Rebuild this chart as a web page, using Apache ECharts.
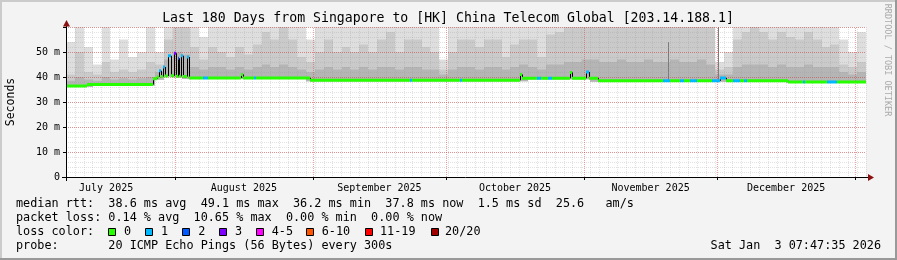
<!DOCTYPE html>
<html><head><meta charset="utf-8">
<script src="https://cdn.jsdelivr.net/npm/echarts@6/dist/echarts.min.js"></script>
<style>html,body{margin:0;padding:0;background:#f3f3f3}#c{width:897px;height:260px}</style>
</head><body><div id="c"></div>
<script>
const FONT = "'DejaVu Sans Mono', monospace";
// x values are days since 1 Jul 2025 00:00
const startDay = 6.475, endDay = 186.475;
const monthNames = ['July 2025','August 2025','September 2025','October 2025','November 2025','December 2025'];
const monthMid = [15.5, 46.5, 77, 107.5, 138, 168.5];
const monthStart = [31, 62, 92, 123, 153, 184];
const yMax = 60;
// smoke, 2-day buckets from startDay (ms): top of dark / mid / light band
const smokeStep = 2;
const smokeDark = [38.5,40,39,38.5,40,39,39.5,39,39.5,40, 42,47,50,49,44,43,44,44,43,44,
  43,44,45,44,45,44,43,42,43,44, 43,44,43,44,43,44,44,43,44,44, 43,43,41,43,44,44,43,44,44,43,
  44,45,44,43,45,45,46,46,47,47, 46,46,47,46,46,47,46,46,47,46, 46,47,45,41,41,44,45,45,45,44,
  45,44,44,45,44,44,44,42,41,42];
const smokeMid = [41,50,42,41,46,42,43,42,43,46, 45,55,65,65,52,47,52,50,48,52,
  49,53,58,55,60,55,48,46,50,55, 50,52,50,53,50,55,58,50,55,55, 52,50,43,50,55,55,52,55,55,48,
  53,55,55,48,57,58,65,62,65,65, 65,60,65,65,62,65,65,65,65,62, 65,65,60,43,44,55,58,60,58,55,
  58,56,55,58,55,52,53,45,44,46];
const smokeLight = [54,65,52,45,65,47,55,48,50,65, 50,65,65,65,65,56,65,65,65,65,
  65,65,65,65,65,65,60,55,65,65, 65,65,65,65,65,65,65,65,65,65, 65,65,47,65,65,65,65,65,65,62,
  65,65,65,60,65,65,65,65,65,65, 65,65,65,65,65,65,65,65,65,65, 65,65,65,46,50,65,65,65,65,65,
  65,65,65,65,65,65,65,55,50,58];
// single-sample high outliers (day, top ms)
const streakDay = [141.88, 153.1];
const streakTop = [54, 60];
// median rtt segments: start day, value (ms), lost pings of 20
const medDay = [6.475,11.2,26.05,26.95,27.4,27.74,28.3,28.64,29.36,30.1,30.84,31.23,31.61,31.9,32.28,32.87,33.77,34.15,
  37.3,38.4,45.85,46.2,48.8,49.2,61.4,83.9,84.3,95.1,95.6,108.6,109.1,112.5,113.4,114.9,115.8,119.9,120.3,123.5,124.2,
  126.2,140.8,142.4,144.6,145.5,146.8,148.5,151.8,153.6,155.0,156.6,158.1,159.0,159.7,168.9,172.3,172.8,177.7,180.0];
const medMs = [36.4,37.0,39.3,40.0,42.5,40.2,44.0,40.4,48.5,40.5,49.5,40.3,47.5,40.3,48.5,40.2,48.0,39.6,
  39.6,39.6,41.0,39.6,39.6,39.6,38.7,38.7,38.7,38.7,38.7,41.0,39.5,39.5,39.5,39.5,39.5,41.8,39.5,42.0,39.5,
  38.5,38.5,38.5,38.5,38.5,38.5,38.5,38.5,39.6,38.5,38.5,38.5,38.5,38.5,38.0,38.0,38.0,38.0,38.0];
const medLoss = [0,0,0,0,1,0,1,0,1,0,3,0,2,0,1,0,1,0,
  1,0,0,0,1,0,0,1,0,1,0,0,0,1,0,1,0,0,0,1,0,
  0,1,0,1,0,1,0,1,1,0,1,0,1,0,0,1,0,1,0];
const lossColors = ['#26ff00','#00b8ff','#0059ff','#7e00ff','#ff00ff','#ff5500','#ff0000','#a10000'];
const lossLabels = ['0','1','2','3','4-5','6-10','11-19','20/20'];
function lossIndex(n){ if(n<=3) return n; if(n<=5) return 4; if(n<=10) return 5; if(n<=19) return 6; return 7; }
function medianAt(t){ let v = medMs[0]; for(let i=0;i<medDay.length;i++){ if(medDay[i]<=t) v=medMs[i]; } return v; }

const smokeData = smokeDark.map((d,i)=>{
  const t0 = startDay + i*smokeStep, t1 = Math.min(endDay, t0+smokeStep);
  const base = Math.min(medianAt(t0), medianAt((t0+t1)/2), medianAt(t1-0.01)) - 0.4;
  return [t0, t1, base, d, smokeMid[i], smokeLight[i]];
});
const streakData = streakDay.map((t,i)=>[t, medianAt(t), streakTop[i]]);
const medData = medDay.map((t,i)=>[t, i+1<medDay.length?medDay[i+1]:endDay, medMs[i], medLoss[i], i>0?medMs[i-1]:NaN]);

function clipR(r, cs){ return echarts.graphic.clipRectByRect(r, {x:cs.x,y:cs.y,width:cs.width,height:cs.height}); }
function renderSmoke(params, api){
  const cs = params.coordSys;
  const t0=api.value(0), t1=api.value(1), base=api.value(2);
  const layers=[[api.value(5),'#dedede'],[api.value(4),'#cacaca'],[api.value(3),'#b5b5b5']];
  const children=[];
  for(const [top,color] of layers){
    if(top<=base) continue;
    const a=api.coord([t0,top]), b=api.coord([t1,base]);
    const x0=Math.round(a[0]), x1=Math.round(b[0]);
    const r=clipR({x:x0,y:a[1],width:x1-x0,height:b[1]-a[1]}, cs);
    if(r) children.push({type:'rect',shape:r,style:{fill:color}});
  }
  return {type:'group',children};
}
function renderStreak(params, api){
  const cs = params.coordSys;
  const a=api.coord([api.value(0),api.value(2)]), b=api.coord([api.value(0),api.value(1)]);
  const r=clipR({x:Math.round(a[0]),y:a[1],width:1,height:b[1]-a[1]}, cs);
  return r?{type:'rect',shape:r,style:{fill:'#7a7a7a'}}:null;
}
function renderMed(params, api){
  const t0=api.value(0), t1=api.value(1), v=api.value(2), loss=api.value(3), pv=api.value(4);
  const a=api.coord([t0,v]), b=api.coord([t1,v]);
  const x0=Math.round(a[0]), x1=Math.round(b[0]);
  const children=[];
  if(!isNaN(pv) && pv!==v){
    const p=api.coord([t0,pv]);
    children.push({type:'line',shape:{x1:x0+0.5,y1:p[1],x2:x0+0.5,y2:a[1]},style:{stroke:'#000',lineWidth:1}});
  }
  children.push({type:'rect',shape:{x:x0,y:a[1]-1.5,width:Math.max(1,x1-x0),height:3},style:{fill:lossColors[lossIndex(loss)]}});
  return {type:'group',children};
}

const chart = echarts.init(document.getElementById('c'), null, {renderer:'canvas'});
const gL=66, gT=27, gW=800, gH=150;
const textLines = [
  'median rtt:  38.6 ms avg  49.1 ms max  36.2 ms min  37.8 ms now  1.5 ms sd  25.6   am/s',
  'packet loss: 0.14 % avg  10.65 % max  0.00 % min  0.00 % now',
  'loss color:',
  'probe:       20 ICMP Echo Pings (56 Bytes) every 300s'
];
const swX = [108.5,145.5,182.5,219.5,256.5,306.5,365.5,431.5];
const swLX = [124,161,198.3,235,271.7,321.7,380,445];
const graphics = [
  {type:'rect',shape:{x:0,y:0,width:897,height:2},style:{fill:'#cbcbcb'},silent:true},
  {type:'rect',shape:{x:0,y:0,width:2,height:260},style:{fill:'#cbcbcb'},silent:true},
  {type:'rect',shape:{x:0,y:258,width:897,height:2},style:{fill:'#999'},silent:true},
  {type:'rect',shape:{x:895,y:0,width:2,height:260},style:{fill:'#999'},silent:true},
  {type:'text',x:448,y:19,style:{text:'Last 180 Days from Singapore to [HK] China Telecom Global [203.14.188.1]',font:'13.2px '+FONT,fill:'#000',align:'center',verticalAlign:'middle'}},
  {type:'text',x:11,y:102,rotation:Math.PI/2,style:{text:'Seconds',font:'11.5px '+FONT,fill:'#000',align:'center',verticalAlign:'middle'}},
  {type:'text',x:887,y:60,rotation:-Math.PI/2,style:{text:'RRDTOOL / TOBI OETIKER',font:'8.5px '+FONT,fill:'#aaaaaa',align:'center',verticalAlign:'middle'}},
  {type:'line',shape:{x1:62,y1:gT+gH+0.5,x2:869,y2:gT+gH+0.5},style:{stroke:'#000',lineWidth:1},z:20},
  {type:'line',shape:{x1:gL+0.5,y1:gT+gH+4,x2:gL+0.5,y2:23},style:{stroke:'#000',lineWidth:1},z:20},
  {type:'polygon',shape:{points:[[63,26.5],[70,26.5],[66.5,20]]},style:{fill:'#8b1010'},z:21},
  {type:'polygon',shape:{points:[[868,174],[868,181],[874,177.5]]},style:{fill:'#8b1010'},z:21},
  {type:'text',x:881,y:246.3,style:{text:'Sat Jan  3 07:47:35 2026',font:'11.8px '+FONT,fill:'#000',align:'right',verticalAlign:'middle'}}
];
textLines.forEach((t,i)=>graphics.push({type:'text',x:16,y:204.3+14*i,style:{text:t,font:'11.8px '+FONT,fill:'#000',align:'left',verticalAlign:'middle'}}));
lossColors.forEach((c,i)=>{
  graphics.push({type:'rect',shape:{x:swX[i],y:228.5,width:7,height:7},style:{fill:c,stroke:'#000',lineWidth:1}});
  graphics.push({type:'text',x:swLX[i],y:232.3,style:{text:lossLabels[i],font:'11.8px '+FONT,fill:'#000',align:'left',verticalAlign:'middle'}});
});
const minorGrid = {color:'rgba(150,150,150,0.28)',width:1,type:[1,1]};
const majorGrid = {color:'rgba(210,50,50,0.45)',width:1,type:[1,1]};

chart.setOption({
  backgroundColor:'#f3f3f3',
  animation:false,
  grid:{left:gL,top:gT,width:gW,height:gH,show:true,backgroundColor:'#ffffff',borderWidth:0},
  xAxis:[
    {type:'value',min:startDay,max:endDay,z:6,
      axisLine:{show:false},
      axisTick:{show:true,customValues:monthStart,length:3,inside:false,lineStyle:{color:'#000'}},
      axisLabel:{show:true,customValues:monthMid,margin:6,fontFamily:FONT,fontSize:10,color:'#000',
        formatter:(v)=>{const i=monthMid.findIndex(m=>Math.abs(m-v)<0.01);return i>=0?monthNames[i]:'';}},
      splitLine:{show:false}},
    {type:'value',min:0,max:180,interval:2,z:5,position:'bottom',
      axisLine:{show:false},axisTick:{show:false},axisLabel:{show:false},
      splitLine:{show:true,lineStyle:minorGrid}}
  ],
  yAxis:[
    {type:'value',min:0,max:yMax,interval:10,z:6,
      axisLine:{show:false},
      axisTick:{show:true,length:3,lineStyle:{color:'#000'}},
      axisLabel:{margin:6,fontFamily:FONT,fontSize:10,color:'#000',formatter:(v)=>v===0?'0':(v>=yMax?'':v+' m')},
      splitLine:{show:true,lineStyle:majorGrid}},
    {type:'value',min:0,max:yMax,interval:2,z:5,
      axisLine:{show:false},axisTick:{show:false},axisLabel:{show:false},
      splitLine:{show:true,lineStyle:minorGrid}}
  ],
  graphic:{elements:graphics},
  series:[
    {type:'custom',name:'smoke',xAxisIndex:0,yAxisIndex:0,z:1,silent:true,renderItem:renderSmoke,
      dimensions:['t0','t1','base','dark','mid','light'],encode:{x:[0,1],y:[2]},data:smokeData,clip:true},
    {type:'custom',name:'outliers',xAxisIndex:0,yAxisIndex:0,z:2,silent:true,renderItem:renderStreak,
      dimensions:['t','base','top'],encode:{x:[0],y:[1,2]},data:streakData,clip:true},
    {type:'line',xAxisIndex:0,yAxisIndex:0,z:7,data:[],silent:true,
      markLine:{silent:true,symbol:['none','none'],label:{show:false},animation:false,
        lineStyle:majorGrid,
        data:monthStart.map(d=>({xAxis:d}))}},
    {type:'custom',name:'median',xAxisIndex:0,yAxisIndex:0,z:10,silent:true,renderItem:renderMed,
      dimensions:['t0','t1','ms','loss','prev'],encode:{x:[0,1],y:[2]},data:medData,clip:true}
  ]
});
</script></body></html>
